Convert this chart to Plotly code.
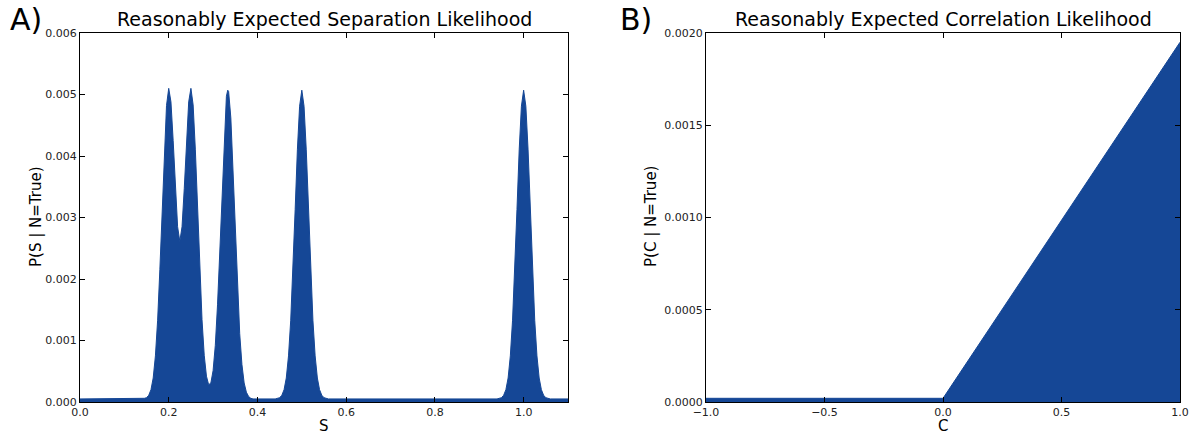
import plotly.graph_objects as go

# panel A: separation likelihood
sep_s = [0.0, 0.140, 0.145, 0.150, 0.155, 0.160, 0.165, 0.170, 0.175, 0.180, 0.185,
         0.190, 0.195, 0.200, 0.205, 0.210, 0.215, 0.220, 0.225, 0.230, 0.235,
         0.240, 0.245, 0.250, 0.255, 0.260, 0.265, 0.270, 0.275, 0.280, 0.285,
         0.290, 0.295, 0.300, 0.305, 0.310, 0.315, 0.320, 0.325, 0.330, 0.333,
         0.335, 0.340, 0.345, 0.350, 0.355, 0.360, 0.365, 0.370, 0.375, 0.380,
         0.385, 0.390,
         0.440, 0.445, 0.450, 0.455, 0.460, 0.465, 0.470, 0.475, 0.480, 0.485,
         0.490, 0.495, 0.500, 0.505, 0.510, 0.515, 0.520, 0.525, 0.530, 0.535,
         0.540, 0.545, 0.550, 0.555, 0.560,
         0.940, 0.945, 0.950, 0.955, 0.960, 0.965, 0.970, 0.975, 0.980, 0.985,
         0.990, 0.995, 1.000, 1.005, 1.010, 1.015, 1.020, 1.025, 1.030, 1.035,
         1.040, 1.045, 1.050, 1.055, 1.060, 1.100]
sep_p = [0.00005, 0.00005, 0.00006, 0.00007, 0.00011, 0.00020, 0.00039, 0.00075, 0.00133, 0.00215, 0.00313,
         0.00410, 0.00482, 0.00510, 0.00488, 0.00425, 0.00347, 0.00285, 0.00261, 0.00285, 0.00347,
         0.00425, 0.00488, 0.00510, 0.00483, 0.00410, 0.00313, 0.00215, 0.00134, 0.00076, 0.00042,
         0.00028, 0.00031, 0.00051, 0.00092, 0.00158, 0.00247, 0.00347, 0.00438, 0.00497, 0.00507,
         0.00505, 0.00462, 0.00378, 0.00278, 0.00184, 0.00111, 0.00061, 0.00031, 0.00016, 0.00009,
         0.00006, 0.00005,
         0.00005, 0.00006, 0.00007, 0.00011, 0.00020, 0.00039, 0.00075, 0.00133, 0.00215, 0.00313,
         0.00410, 0.00481, 0.00507, 0.00481, 0.00410, 0.00313, 0.00215, 0.00133, 0.00075, 0.00039,
         0.00020, 0.00011, 0.00007, 0.00006, 0.00005,
         0.00005, 0.00006, 0.00007, 0.00011, 0.00020, 0.00039, 0.00075, 0.00133, 0.00215, 0.00313,
         0.00410, 0.00481, 0.00507, 0.00481, 0.00410, 0.00313, 0.00215, 0.00133, 0.00075, 0.00039,
         0.00020, 0.00011, 0.00007, 0.00006, 0.00005, 0.00005]

# panel B: correlation likelihood
corr_c = [-1.0, 0.0, 1.0]
corr_p = [0.00002, 0.00002, 0.00195]

sep_ticks = [0.0, 0.2, 0.4, 0.6, 0.8, 1.0]
sep_yticks = [0.000, 0.001, 0.002, 0.003, 0.004, 0.005, 0.006]
corr_ticks = [-1.0, -0.5, 0.0, 0.5, 1.0]
corr_yticks = [0.0, 0.0005, 0.0010, 0.0015, 0.0020]

W, H = 1193, 436
blue = "#154796"
font = "DejaVu Sans"

fig = go.Figure()
fig.add_trace(go.Scatter(x=sep_s, y=sep_p, mode="lines", fill="tozeroy",
                         line=dict(color=blue, width=1), fillcolor=blue,
                         xaxis="x", yaxis="y", showlegend=False))
fig.add_trace(go.Scatter(x=corr_c, y=corr_p, mode="lines", fill="tozeroy",
                         line=dict(color=blue, width=1), fillcolor=blue,
                         xaxis="x2", yaxis="y2", showlegend=False))

axis_style = dict(showline=True, linecolor="black", linewidth=1.2, mirror="ticks",
                  ticks="inside", ticklen=5, tickcolor="black", showgrid=False,
                  zeroline=False, automargin=False,
                  tickfont=dict(family=font, size=11, color="#222"))

fig.update_layout(
    width=W, height=H,
    margin=dict(l=0, r=0, t=0, b=0),
    paper_bgcolor="white", plot_bgcolor="white",
    xaxis=dict(domain=[80 / W, 568 / W], range=[0, 1.1], tickvals=sep_ticks,
               tickformat=".1f", anchor="y", **axis_style),
    yaxis=dict(domain=[1 - 402 / H, 1 - 33 / H], range=[0, 0.006], tickvals=sep_yticks,
               tickformat=".3f", anchor="x", **axis_style),
    xaxis2=dict(domain=[706 / W, 1180 / W], range=[-1, 1], tickvals=corr_ticks,
                tickformat=".1f", anchor="y2", **axis_style),
    yaxis2=dict(domain=[1 - 402 / H, 1 - 33 / H], range=[0, 0.002], tickvals=corr_yticks,
                tickformat=".4f", anchor="x2", **axis_style),
)

def note(text, px, py, size, angle=0, xanchor="center"):
    fig.add_annotation(text=text, x=px / W, y=1 - py / H, xref="paper", yref="paper",
                       showarrow=False, textangle=angle, xanchor=xanchor, yanchor="middle",
                       font=dict(family=font, size=size, color="black"))

note("Reasonably Expected Separation Likelihood", 324, 19, 19)
note("Reasonably Expected Correlation Likelihood", 943, 19, 19)
note("A)", 8, 20, 30, xanchor="left")
note("B)", 618, 20, 30, xanchor="left")
note("P(S | N=True)", 36, 217, 15, angle=-90)
note("P(C | N=True)", 651, 217, 15, angle=-90)
note("S", 324, 426, 15)
note("C", 943, 426, 15)

# drop the page's default body margin so the figure sits at the window's corner
fig.write_html("out.html", config={"displayModeBar": False},
               post_script="document.body.style.margin='0';")
